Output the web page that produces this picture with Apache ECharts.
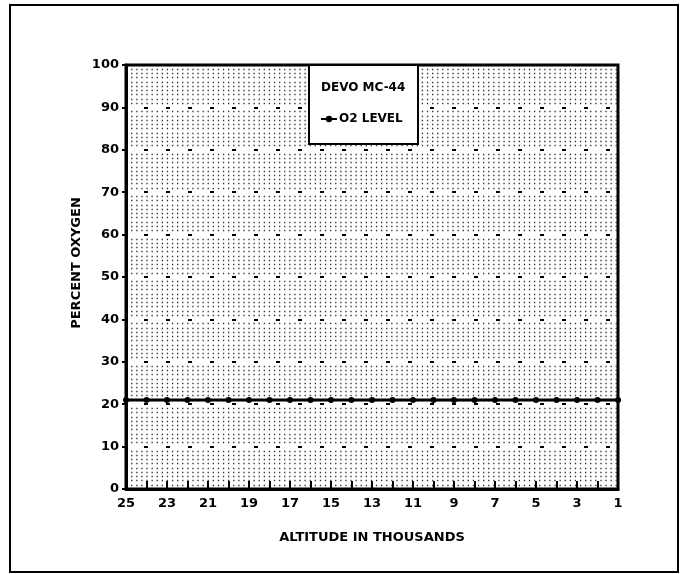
<!DOCTYPE html>
<html>
<head>
<meta charset="utf-8">
<script src="https://cdn.jsdelivr.net/npm/echarts@6/dist/echarts.min.js"></script>
<style>
html,body{margin:0;padding:0;background:#fff;}
#c{width:680px;height:574px;}
</style>
</head>
<body>
<div id="c"></div>
<script>
var altitudes = [25,24,23,22,21,20,19,18,17,16,15,14,13,12,11,10,9,8,7,6,5,4,3,2,1];
var o2Level = [21,21,21,21,21,21,21,21,21,21,21,21,21,21,21,21,21,21,21,21,21,21,21,21,21];
var seriesName = 'O2 LEVEL';
var legendTitle = 'DEVO MC-44';
var xName = 'ALTITUDE IN THOUSANDS';
var yName = 'PERCENT OXYGEN';

var font = "'DejaVu Sans', sans-serif";
var chart = echarts.init(document.getElementById('c'));
var hDots = {color:'#333', width:1.3, type:[1.3,3.8]};
chart.setOption({
  animation:false,
  backgroundColor:'#fff',
  grid:{left:126, top:65, right:62, bottom:85, show:true, borderColor:'#000', borderWidth:3, backgroundColor:'transparent'},
  xAxis:{
    type:'value', min:1, max:25, interval:1, inverse:true,
    name:xName, nameLocation:'middle', nameGap:42,
    nameTextStyle:{color:'#000', fontFamily:font, fontWeight:'bold', fontSize:13},
    axisLine:{show:true, lineStyle:{color:'#000', width:3}},
    axisTick:{show:true, inside:true, length:8, lineStyle:{color:'#000', width:2}},
    axisLabel:{color:'#000', fontFamily:font, fontWeight:'bold', fontSize:13, margin:8,
      formatter:function(v){return (v % 2 === 1) ? String(v) : '';}},
    splitLine:{show:false},
    minorTick:{show:false},
    minorSplitLine:{show:false}
  },
  yAxis:{
    type:'value', min:0, max:100, interval:10,
    axisLine:{show:true, lineStyle:{color:'#000', width:3}},
    axisTick:{show:true, length:4, lineStyle:{color:'#000', width:2}},
    axisLabel:{color:'#000', fontFamily:font, fontWeight:'bold', fontSize:13, margin:7},
    splitLine:{show:true, lineStyle:{color:'#000', width:2, type:[4,18], dashOffset:-18}},
    minorTick:{show:false, splitNumber:10},
    minorSplitLine:{show:true, lineStyle:hDots}
  },
  legend:{
    left:320, top:113, itemWidth:16, itemHeight:8, itemGap:4, padding:0, z:60,
    data:[seriesName],
    textStyle:{color:'#000', fontFamily:font, fontWeight:'bold', fontSize:12, padding:[0,0,0,-3]}
  },
  graphic:[
    {type:'rect', shape:{x:10, y:5, width:668, height:567}, style:{fill:'none', stroke:'#000', lineWidth:2}, z:0, silent:true},
    {type:'rect', shape:{x:309, y:65, width:109, height:79}, style:{fill:'#fff', stroke:'#000', lineWidth:2}, z:50},
    {type:'text', left:321, top:82, style:{text:legendTitle, fill:'#000', font:'bold 12px ' + font}, z:51},
    {type:'text', x:77, y:263, rotation:Math.PI/2, style:{text:yName, fill:'#000', font:'bold 13px ' + font, textAlign:'center', textVerticalAlign:'middle'}, z:51}
  ],
  series:[{
    name:seriesName, type:'line', z:10,
    data:altitudes.map(function(a,i){return [a, o2Level[i]];}),
    lineStyle:{color:'#000', width:3},
    itemStyle:{color:'#000'},
    symbol:'circle', symbolSize:6, showSymbol:true
  }]
});
</script>
</body>
</html>
